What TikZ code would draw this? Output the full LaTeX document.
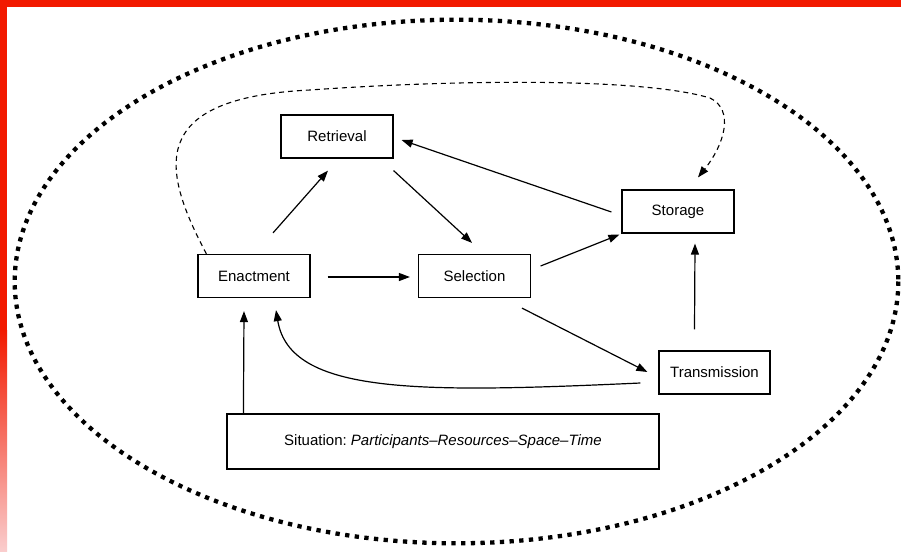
\documentclass[tikz,border=0pt]{standalone}
\usepackage{fontspec}
\setmainfont{Liberation Sans}
\usetikzlibrary{arrows.meta,calc}
\definecolor{bred}{RGB}{242,26,0}
\definecolor{bpink}{RGB}{250,205,205}
\begin{document}
\begin{tikzpicture}[x=1pt,y=-1pt,
  box/.style={draw, line width=1.2pt, minimum width=112pt, minimum height=43pt, inner sep=0pt, font=\fontsize{15}{18}\selectfont},
  arr/.style={line width=1.2pt, -{Triangle[length=11pt,width=8pt]}},
  dotring/.style={line width=4.3pt, dash pattern=on 4.3pt off 5.4pt},
  dashlink/.style={line width=1.1pt, dash pattern=on 5pt off 4pt, -{Triangle[length=11pt,width=8pt]}},
]
\useasboundingbox (0,0) rectangle (901,551);
\fill[white] (0,0) rectangle (901,551);
\fill[bred] (0,0) rectangle (901,7);
\fill[bred] (0,0) rectangle (7,330);
\shade[top color=bred, bottom color=bpink] (0,330) rectangle (7,551);

\draw[dotring] (456.5,281.5) ellipse [x radius=441.8, y radius=261.8];

\node[box] (ret) at (337,136.5) {Retrieval};
\node[box] (ena) at (254,276) {Enactment};
\node[box] (sel) at (474.5,276) {Selection};
\node[box] (sto) at (678,211.5) {Storage};
\node[box, minimum width=111pt] (tra) at (714.5,372.5) {Transmission};
\node[box, minimum width=432pt, minimum height=55pt] (sit) at (443,441.5) {Situation:\ \textit{Participants–Resources–Space–Time}};

\draw[arr] ($(ena.north)+(19,-21)$) -- ($(ret.south)+(-9,12)$);
\draw[arr] ($(ret.south east)+(0,12)$) -- ($(sel.north)+(-2.5,-11)$);
\draw[arr] ($(ena.east)+(17,1)$) -- ($(sel.west)+(-8,1)$);
\draw[arr] ($(sel.east)+(9.5,-10)$) -- ($(sto.south west)+(-2,1)$);
\draw[arr] ($(sto.west)+(-10,0.5)$) -- ($(ret.east)+(8,3.5)$);
\draw[arr] ($(sel.south)+(47.5,10)$) -- ($(tra.west)+(-11,-0.5)$);
\draw[arr] ($(tra.west)+(-18,10.5)$) .. controls (420,393) and (290,395) .. ($(ena.south)+(22,12)$);
\draw[arr] ($(sit.north west)+(17,0)$) -- ($(ena.south)+(-10,13)$);
\draw[arr] ($(tra.north)+(-20,-21)$) -- ($(sto.south)+(17,10)$);

\draw[dashlink] ($(ena.north west)+(9,0)$) .. controls (162,170) and (145,98) .. (310,90)
  .. controls (450,80) and (640,77) .. (710,98)
  .. controls (735,110) and (724,145) .. ($(sto.north)+(20,-12)$);
\end{tikzpicture}
\end{document}
